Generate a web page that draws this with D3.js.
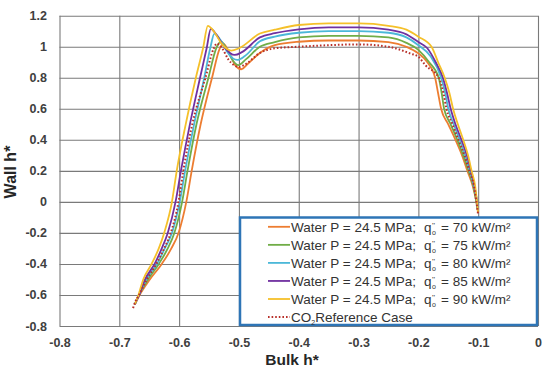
<!DOCTYPE html>
<html>
<head>
<meta charset="utf-8">
<script src="https://cdn.jsdelivr.net/npm/d3@7"></script>
<style>
  body { margin: 0; background: #fff; }
  svg { display: block; }
</style>
</head>
<body>
<svg id="chart"></svg>
<script>
// values
var xTicks = [-0.8, -0.7, -0.6, -0.5, -0.4, -0.3, -0.2, -0.1, 0];
var yTicks = [-0.8, -0.6, -0.4, -0.2, 0, 0.2, 0.4, 0.6, 0.8, 1, 1.2];

var bulk70 = [-0.674, -0.666, -0.649, -0.629, -0.613, -0.601, -0.588, -0.579, -0.564, -0.545, -0.532, -0.526, -0.516, -0.506, -0.496, -0.485, -0.465, -0.44, -0.4, -0.35, -0.3, -0.25, -0.22, -0.2, -0.185, -0.172, -0.167, -0.162, -0.15, -0.138, -0.127, -0.118, -0.109, -0.103, -0.1];
var wall70 = [-0.66, -0.6, -0.5, -0.4, -0.3, -0.2, 0.0, 0.2, 0.5, 0.8, 0.99, 1.02, 0.96, 0.88, 0.855, 0.89, 0.96, 1.01, 1.032, 1.04, 1.04, 1.03, 1.0, 0.957, 0.9, 0.8, 0.7, 0.6, 0.5, 0.4, 0.3, 0.2, 0.1, 0.0, -0.07];

var bulk75 = [-0.674, -0.667, -0.652, -0.634, -0.619, -0.608, -0.595, -0.586, -0.571, -0.551, -0.538, -0.53, -0.52, -0.51, -0.501, -0.488, -0.465, -0.44, -0.4, -0.35, -0.3, -0.25, -0.22, -0.2, -0.182, -0.166, -0.161, -0.157, -0.146, -0.135, -0.125, -0.116, -0.108, -0.103, -0.1];
var wall75 = [-0.66, -0.6, -0.5, -0.4, -0.3, -0.2, 0.0, 0.2, 0.5, 0.8, 0.99, 1.035, 0.98, 0.91, 0.882, 0.92, 1.0, 1.03, 1.06, 1.07, 1.07, 1.06, 1.025, 0.98, 0.9, 0.8, 0.7, 0.6, 0.5, 0.4, 0.3, 0.2, 0.1, 0.0, -0.07];

var bulk80 = [-0.674, -0.667, -0.655, -0.637, -0.624, -0.612, -0.599, -0.59, -0.575, -0.558, -0.548, -0.541, -0.532, -0.52, -0.51, -0.503, -0.49, -0.465, -0.44, -0.4, -0.35, -0.3, -0.25, -0.22, -0.2, -0.18, -0.162, -0.155, -0.15, -0.141, -0.131, -0.122, -0.114, -0.107, -0.102, -0.1];
var wall80 = [-0.66, -0.6, -0.5, -0.4, -0.3, -0.2, 0.0, 0.2, 0.5, 0.8, 0.99, 1.085, 1.05, 0.97, 0.925, 0.915, 0.94, 1.035, 1.065, 1.09, 1.1, 1.1, 1.09, 1.06, 1.01, 0.94, 0.8, 0.7, 0.6, 0.5, 0.4, 0.3, 0.2, 0.1, 0.0, -0.07];

var bulk85 = [-0.674, -0.667, -0.657, -0.641, -0.629, -0.619, -0.606, -0.597, -0.582, -0.565, -0.554, -0.547, -0.538, -0.525, -0.515, -0.507, -0.495, -0.465, -0.44, -0.4, -0.35, -0.3, -0.25, -0.22, -0.2, -0.185, -0.171, -0.159, -0.152, -0.146, -0.138, -0.128, -0.119, -0.112, -0.106, -0.102, -0.1];
var wall85 = [-0.66, -0.6, -0.5, -0.4, -0.3, -0.2, 0.0, 0.2, 0.5, 0.8, 0.99, 1.115, 1.08, 1.0, 0.96, 0.947, 0.965, 1.06, 1.087, 1.112, 1.125, 1.125, 1.11, 1.08, 1.03, 0.99, 0.9, 0.8, 0.7, 0.6, 0.5, 0.4, 0.3, 0.2, 0.1, 0.0, -0.07];

var bulk90 = [-0.674, -0.668, -0.66, -0.646, -0.634, -0.625, -0.612, -0.604, -0.589, -0.572, -0.56, -0.552, -0.542, -0.53, -0.52, -0.513, -0.5, -0.465, -0.44, -0.4, -0.35, -0.3, -0.25, -0.22, -0.2, -0.178, -0.167, -0.156, -0.148, -0.142, -0.134, -0.125, -0.117, -0.111, -0.105, -0.102, -0.1];
var wall90 = [-0.66, -0.6, -0.5, -0.4, -0.3, -0.2, 0.0, 0.2, 0.5, 0.8, 0.99, 1.135, 1.1, 1.025, 0.985, 0.975, 0.99, 1.085, 1.11, 1.14, 1.15, 1.15, 1.135, 1.11, 1.065, 1.0, 0.9, 0.8, 0.7, 0.6, 0.5, 0.4, 0.3, 0.2, 0.1, 0.0, -0.07];

var bulkCO2 = [-0.677, -0.674, -0.667, -0.654, -0.638, -0.625, -0.614, -0.601, -0.593, -0.578, -0.556, -0.542, -0.537, -0.528, -0.518, -0.508, -0.5, -0.49, -0.465, -0.44, -0.4, -0.35, -0.3, -0.25, -0.214, -0.2, -0.188, -0.166, -0.158, -0.153, -0.143, -0.133, -0.123, -0.115, -0.107, -0.103, -0.1];
var wallCO2 = [-0.685, -0.65, -0.6, -0.5, -0.4, -0.3, -0.2, 0.0, 0.2, 0.5, 0.8, 0.99, 1.02, 0.99, 0.92, 0.88, 0.87, 0.885, 0.96, 0.99, 1.0, 1.01, 1.015, 1.0, 0.957, 0.935, 0.88, 0.8, 0.7, 0.6, 0.5, 0.4, 0.3, 0.2, 0.1, 0.0, -0.085];

var fluxes = ["70", "75", "80", "85", "90"];
var colors = ["#ED7D31", "#70AD47", "#4BB8D8", "#7030A0", "#F5C02A"];

var series = [
    {bulk: bulk70, wall: wall70, color: colors[0]},
    {bulk: bulk75, wall: wall75, color: colors[1]},
    {bulk: bulk80, wall: wall80, color: colors[2]},
    {bulk: bulk85, wall: wall85, color: colors[3]},
    {bulk: bulk90, wall: wall90, color: colors[4]}
];
var co2 = {bulk: bulkCO2, wall: wallCO2, color: "#B8302A"};

var width = 550, height = 372;
var plotLeft = 59.5, plotRight = 538, plotTop = 15.7, plotBottom = 326;
var fontFam = "'Liberation Sans', Arial, sans-serif";

var svg = d3.select("#chart")
    .attr("width", width)
    .attr("height", height);

var xScale = d3.scaleLinear().domain([-0.8, 0]).range([plotLeft, plotRight]);
var yScale = d3.scaleLinear().domain([-0.8, 1.2]).range([plotBottom, plotTop]);

var fmt = function (d) { return String(+d.toFixed(1)); };

// grid + tick labels
svg.append("g")
    .attr("transform", "translate(0," + plotBottom + ")")
    .call(d3.axisBottom(xScale).tickValues(xTicks).tickFormat(fmt)
        .tickSizeInner(-(plotBottom - plotTop)).tickSizeOuter(0).tickPadding(12));
svg.append("g")
    .attr("transform", "translate(" + plotLeft + ",0)")
    .call(d3.axisLeft(yScale).tickValues(yTicks).tickFormat(fmt)
        .tickSizeInner(-(plotRight - plotLeft)).tickSizeOuter(0).tickPadding(12.5));

svg.selectAll(".domain").remove();
svg.selectAll(".tick line")
    .attr("stroke", "#7a7a7a")
    .attr("stroke-width", 1.1);
svg.selectAll(".tick text")
    .attr("fill", "#404040")
    .style("font-family", fontFam)
    .style("font-weight", "bold")
    .style("font-size", "12.5px");

// axis titles
svg.append("text")
    .attr("transform", "translate(16,172)rotate(-90)")
    .attr("text-anchor", "middle")
    .attr("fill", "#262626")
    .style("font-family", fontFam)
    .style("font-weight", "bold")
    .style("font-size", "16px")
    .text("Wall h*");

svg.append("text")
    .attr("x", 292)
    .attr("y", 365)
    .attr("text-anchor", "middle")
    .attr("fill", "#262626")
    .style("font-family", fontFam)
    .style("font-weight", "bold")
    .style("font-size", "15.5px")
    .text("Bulk h*");

// curves
var line = d3.line()
    .x(function (d) { return xScale(d[0]); })
    .y(function (d) { return yScale(d[1]); })
    .curve(d3.curveMonotoneX);

function pts(s) {
    return s.bulk.map(function (b, i) { return [b, s.wall[i]]; });
}

svg.selectAll(".curve")
    .data(series)
    .enter().append("path")
    .attr("class", "curve")
    .attr("d", function (s) { return line(pts(s)); })
    .attr("fill", "none")
    .attr("stroke", function (s) { return s.color; })
    .attr("stroke-width", 1.8);

svg.append("path")
    .attr("d", line(pts(co2)))
    .attr("fill", "none")
    .attr("stroke", co2.color)
    .attr("stroke-width", 2)
    .attr("stroke-dasharray", "1.6,2");

// legend
var lg = svg.append("g");
lg.append("rect")
    .attr("x", 240)
    .attr("y", 217.5)
    .attr("width", 297)
    .attr("height", 107.5)
    .attr("fill", "#fff")
    .attr("stroke", "#2E75B6")
    .attr("stroke-width", 2.5);

var rowY = d3.range(6).map(function (i) { return 226.8 + i * 18.05; });

var rows = lg.selectAll(".row")
    .data(fluxes)
    .enter().append("g")
    .attr("class", "row")
    .attr("transform", function (d, i) { return "translate(0," + rowY[i] + ")"; });

rows.append("line")
    .attr("x1", 268).attr("x2", 290)
    .attr("y1", 0).attr("y2", 0)
    .attr("stroke", function (d, i) { return colors[i]; })
    .attr("stroke-width", 1.8);

var txt = rows.append("text")
    .attr("y", 5)
    .attr("fill", "#333")
    .style("font-family", fontFam)
    .style("font-size", "13.5px");
txt.append("tspan").attr("x", 291).text("Water P = 24.5 MPa;");
txt.append("tspan").attr("x", 424).text("q");
txt.append("tspan").attr("x", 432).attr("dy", -4).style("font-size", "8px").text("''");
txt.append("tspan").attr("x", 432).attr("dy", 7).style("font-size", "7px").text("o");
txt.append("tspan").attr("x", 441).attr("dy", -3).text(function (d) { return "= " + d + " kW/m\u00B2"; });

var last = lg.append("g").attr("transform", "translate(0," + rowY[5] + ")");
last.append("line")
    .attr("x1", 268).attr("x2", 290)
    .attr("y1", 0).attr("y2", 0)
    .attr("stroke", co2.color)
    .attr("stroke-width", 2)
    .attr("stroke-dasharray", "1.6,2");
var t2 = last.append("text")
    .attr("x", 291)
    .attr("y", 5)
    .attr("fill", "#333")
    .style("font-family", fontFam)
    .style("font-size", "13.5px");
t2.append("tspan").text("CO");
t2.append("tspan").attr("dy", 3).style("font-size", "7px").text("2");
t2.append("tspan").attr("dy", -3).text("Reference Case");
</script>
</body>
</html>
